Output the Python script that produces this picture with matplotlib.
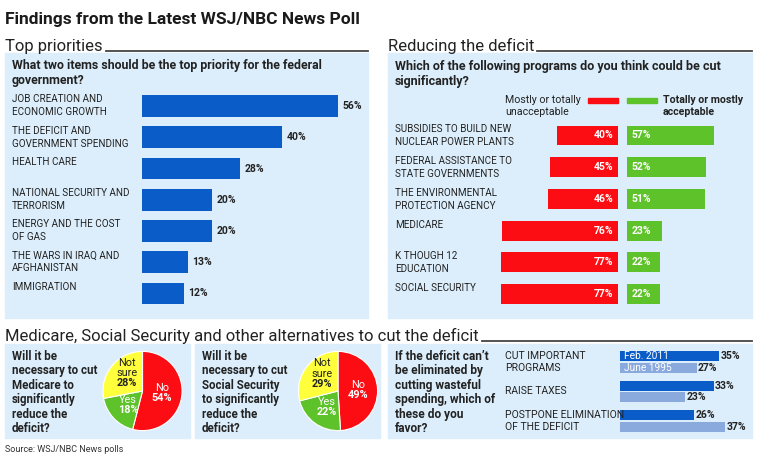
import matplotlib.pyplot as plt
from matplotlib.patches import Rectangle
from matplotlib.transforms import blended_transform_factory

# --- data ---
priority_labels = ["JOB CREATION AND\nECONOMIC GROWTH", "THE DEFICIT AND\nGOVERNMENT SPENDING",
                   "HEALTH CARE", "NATIONAL SECURITY AND\nTERRORISM",
                   "ENERGY AND THE COST\nOF GAS", "THE WARS IN IRAQ AND\nAFGHANISTAN", "IMMIGRATION"]
priority_values = [56, 40, 28, 20, 20, 13, 12]

cut_labels = ["SUBSIDIES TO BUILD NEW\nNUCLEAR POWER PLANTS", "FEDERAL ASSISTANCE TO\nSTATE GOVERNMENTS",
              "THE ENVIRONMENTAL\nPROTECTION AGENCY", "MEDICARE", "K THOUGH 12\nEDUCATION", "SOCIAL SECURITY"]
unacceptable = [40, 45, 46, 76, 77, 77]
acceptable = [57, 52, 51, 23, 22, 22]

pie_labels = ["No", "Yes", "Not\nsure"]
medicare_cut = [54, 18, 28]
social_security_cut = [49, 22, 29]

alt_labels = ["CUT IMPORTANT\nPROGRAMS", "RAISE TAXES", "POSTPONE ELIMINATION\nOF THE DEFICIT"]
feb_2011 = [35, 33, 26]
june_1995 = [27, 23, 37]

BOX = "#dceefb"
BLUE = "#0a5cc8"
LIGHT_BLUE = "#8aaade"
RED = "#fc0d14"
GREEN = "#5ec22a"
YELLOW = "#ffff3c"
INK = "#222222"

plt.rcParams['font.family'] = ['Roboto', 'DejaVu Sans']

W, H = 763, 457
fig = plt.figure(figsize=(W / 100, H / 100), dpi=100)
fig.patch.set_facecolor("white")


def add_ax(x0, y0, x1, y1):
    ax = fig.add_axes([x0 / W, 1 - y1 / H, (x1 - x0) / W, (y1 - y0) / H])
    ax.axis('off')
    return ax


def box(x0, y0, x1, y1):
    fig.add_artist(Rectangle((x0 / W, 1 - y1 / H), (x1 - x0) / W, (y1 - y0) / H,
                             transform=fig.transFigure, color=BOX, zorder=-1))


def ftext(x, y, s, **kw):
    kw.setdefault('color', INK)
    return fig.text(x / W, 1 - y / H, s, **kw)


def lines(x, y, step, s, **kw):
    # one baseline per line so spacing is exact
    for k, line in enumerate(s.split("\n")):
        ftext(x, y + k * step, line, va='baseline', **kw)


def header(x, y, s, line_end):
    t = ftext(x, y, s, fontsize=12, color="#222222", va='baseline')
    fig.canvas.draw()
    bb = t.get_window_extent()
    fig.add_artist(plt.Line2D([(bb.x1 + 3) / W, line_end / W], [1 - (y - 0.5) / H] * 2,
                              transform=fig.transFigure, color="#444444", lw=1.3))


ftext(5, 24, "Findings from the Latest WSJ/NBC News Poll", fontsize=12.5, fontweight='bold',
      va='baseline', color="#1a1a1a")

# --- top priorities ---
header(5, 51, "Top priorities", 368)
box(5, 53, 368, 318)
lines(12, 69, 15, "What two items should be the top priority for the federal\ngovernment?",
      fontsize=8.9, fontweight='bold')

ax1 = add_ax(142, 90.4, 352, 309.1)
ax1.barh(range(len(priority_values)), priority_values, height=0.7, color=BLUE)
ax1.set_xlim(0, 60)
ax1.set_ylim(len(priority_values) - 0.5, -0.5)
tr1 = blended_transform_factory(fig.transFigure, ax1.transData)
for i, (lab, v) in enumerate(zip(priority_labels, priority_values)):
    ax1.text(v + 1.3, i, f"{v}%", va='center', ha='left', fontsize=7.5, fontweight='bold', color=INK)
    ax1.text(12 / W, i - 0.37, lab, transform=tr1, va='top', ha='left', fontsize=7.1,
             color=INK, linespacing=1.35)

# --- reducing the deficit ---
header(388, 51, "Reducing the deficit", 752)
box(388, 53, 752, 318)
lines(395, 70, 14.5, "Which of the following programs do you think could be cut\nsignificantly?",
      fontsize=9, fontweight='bold')
fig.add_artist(Rectangle((588 / W, 1 - 103 / H), 30 / W, 5 / H, transform=fig.transFigure, color=RED))
fig.add_artist(Rectangle((627 / W, 1 - 103 / H), 30 / W, 5 / H, transform=fig.transFigure, color=GREEN))
ftext(505, 95, "Mostly or totally\nunacceptable", fontsize=7.7, va='top', linespacing=1.2)
ftext(663, 95, "Totally or mostly\nacceptable", fontsize=7.6, fontweight='bold', va='top', linespacing=1.2)

n = len(cut_labels)
ax_red = add_ax(496.4, 119.65, 618, 309.85)
ax_red.barh(range(n), unacceptable, height=0.63, color=RED)
ax_red.set_xlim(80, 0)
ax_red.set_ylim(n - 0.5, -0.5)
ax_green = add_ax(627, 119.65, 748.6, 309.85)
ax_green.barh(range(n), acceptable, height=0.63, color=GREEN)
ax_green.set_xlim(0, 80)
ax_green.set_ylim(n - 0.5, -0.5)
tr2 = blended_transform_factory(fig.transFigure, ax_red.transData)
for i in range(n):
    ax_red.text(3.2, i, f"{unacceptable[i]}%", ha='right', va='center', color='white',
                fontsize=7.5, fontweight='bold')
    ax_green.text(3.2, i, f"{acceptable[i]}%", ha='left', va='center', color='white',
                  fontsize=7.5, fontweight='bold')
    ax_red.text(395 / W, i - 0.35, cut_labels[i], transform=tr2, va='top', ha='left',
                fontsize=7.1, color=INK, linespacing=1.35)

# --- bottom: alternatives ---
header(5, 341, "Medicare, Social Security and other alternatives to cut the deficit", 752)
box(5, 344, 190, 438)
box(195, 344, 380, 438)
box(388, 344, 752, 438)

lines(12, 360, 14.4, "Will it be\nnecessary to cut\nMedicare to\nsignificantly\nreduce the\ndeficit?",
      fontsize=8.3, fontweight='bold')
lines(202, 360, 14.4, "Will it be\nnecessary to cut\nSocial Security\nto significantly\nreduce the\ndeficit?",
      fontsize=8.3, fontweight='bold')

for cx, vals in [(142.5, medicare_cut), (338, social_security_cut)]:
    axp = add_ax(cx - 49.5, 391 - 49.5, cx + 49.5, 391 + 49.5)
    wedges, texts, autotexts = axp.pie(
        vals, labels=pie_labels, colors=[RED, GREEN, YELLOW], startangle=90, counterclock=False,
        autopct=lambda p: f"{round(p)}%", labeldistance=0.5, pctdistance=0.5,
        wedgeprops=dict(edgecolor='white', linewidth=0.8))
    axp.set_xlim(-1.25, 1.25)
    axp.set_ylim(-1.25, 1.25)
    for t, a, c in zip(texts, autotexts, ['white', 'white', INK]):
        t.set_va('bottom')
        t.set_ha('center')
        t.set_color(c)
        t.set_fontsize(7.8)
        t.set_linespacing(1.1)
        a.set_va('top')
        a.set_color(c)
        a.set_fontsize(7.8)
        a.set_fontweight('bold')

lines(395, 360, 14.4, "If the deficit can\u2019t\nbe eliminated by\ncutting wasteful\nspending, which of\nthese do you\nfavor?",
      fontsize=8.6, fontweight='bold')

m = len(alt_labels)
ax3 = add_ax(620, 347, 733.6, 436)
ax3.barh([i - 0.2 for i in range(m)], feb_2011, height=0.34, color=BLUE)
ax3.barh([i + 0.2 for i in range(m)], june_1995, height=0.34, color=LIGHT_BLUE)
ax3.set_xlim(0, 40)
ax3.set_ylim(m - 0.5, -0.5)
tr3 = blended_transform_factory(fig.transFigure, ax3.transData)
for i in range(m):
    ax3.text(feb_2011[i] + 0.5, i - 0.2, f"{feb_2011[i]}%", va='center', fontsize=7.5,
             fontweight='bold', color=INK)
    ax3.text(june_1995[i] + 0.5, i + 0.2, f"{june_1995[i]}%", va='center', fontsize=7.5,
             fontweight='bold', color=INK)
    ax3.text(505 / W, i, alt_labels[i], transform=tr3, va='center', ha='left', fontsize=7.5,
             color=INK, linespacing=1.25)
ax3.text(1.3, -0.2, "Feb. 2011", va='center', ha='left', color='white', fontsize=7.3)
ax3.text(1.3, 0.2, "June 1995", va='center', ha='left', color='white', fontsize=7.3)

ftext(5, 452, "Source: WSJ/NBC News polls", fontsize=6.5, va='baseline', color="#333333")

fig.savefig("out.png", dpi=100)
